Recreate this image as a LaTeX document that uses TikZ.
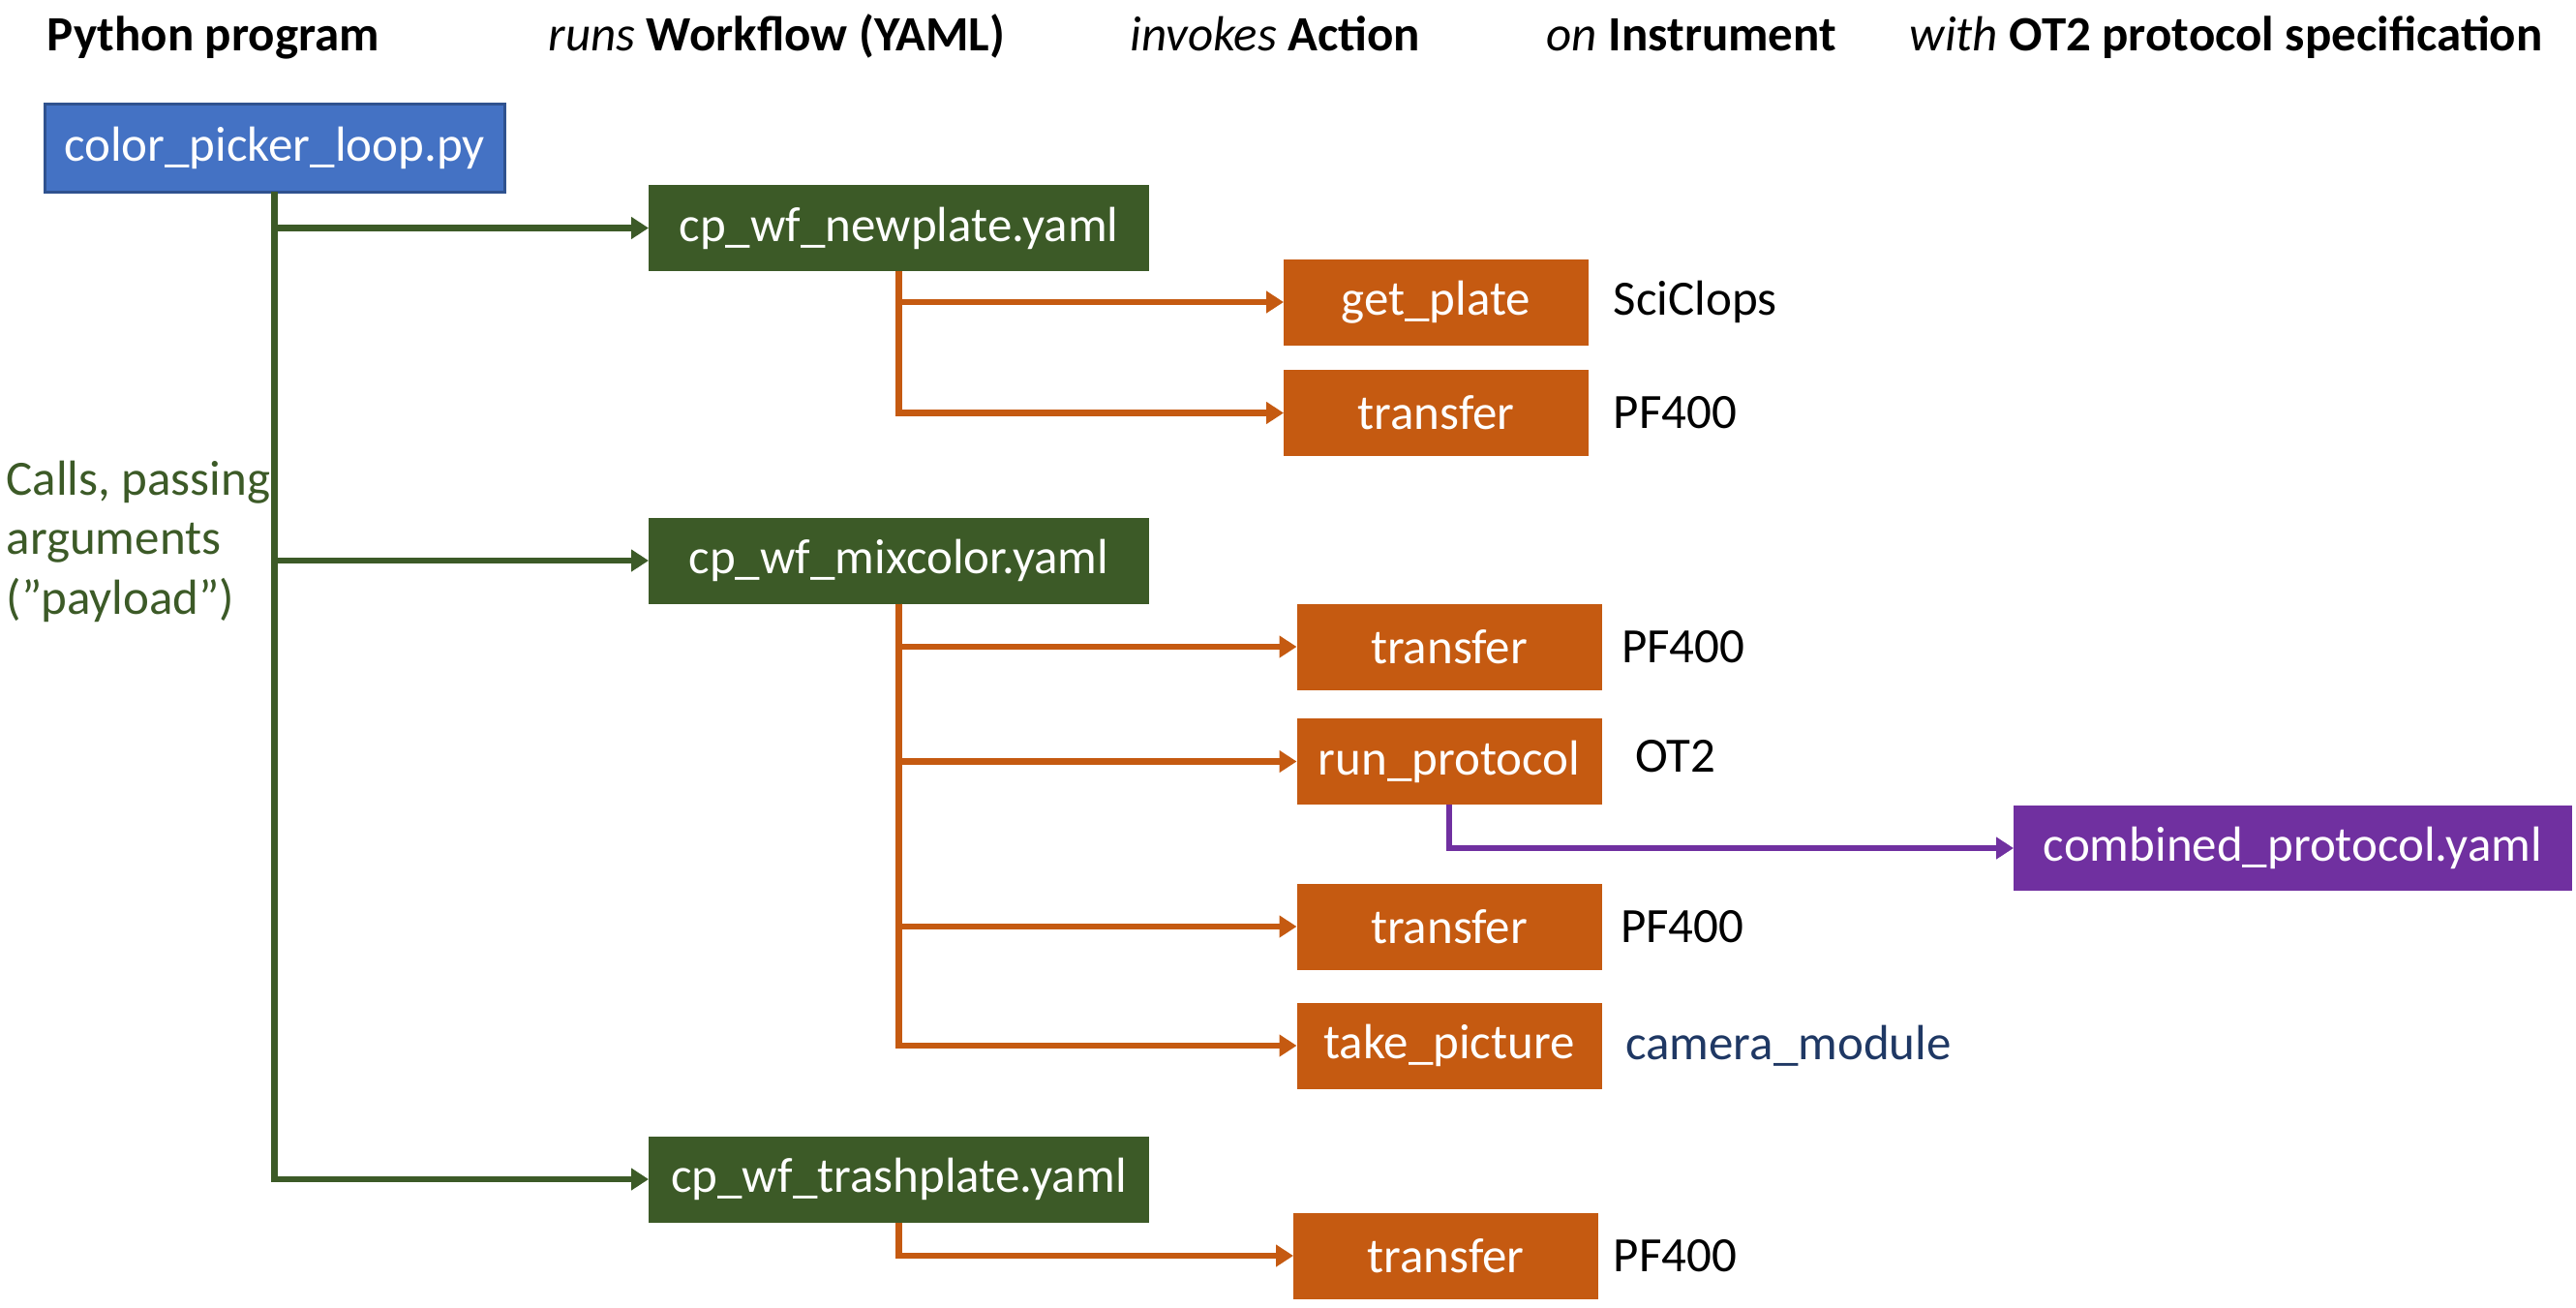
\documentclass[tikz,border=0pt]{standalone}
\usepackage{fontspec}
\setmainfont{Carlito}
\usepackage{xcolor}
\usepackage{tikz}
\usetikzlibrary{arrows.meta, positioning}

\definecolor{pyblue}{HTML}{4472C4}
\definecolor{pyblueline}{HTML}{2F528F}
\definecolor{wfgreen}{HTML}{3C5A27}
\definecolor{actorange}{HTML}{C55A11}
\definecolor{specpurple}{HTML}{7030A0}
\definecolor{camnavy}{HTML}{1F3864}

\begin{document}
\begin{tikzpicture}[
    font=\fontsize{14.5}{17.5}\selectfont,
    box/.style={rectangle, minimum height=0.89cm, inner sep=0pt, outer sep=0pt, align=center, text=white},
    pybox/.style={box, fill=pyblue, draw=pyblueline, line width=0.03cm, minimum width=4.75cm, minimum height=0.91cm},
    wfbox/.style={box, fill=wfgreen, minimum width=5.17cm},
    actbox/.style={box, fill=actorange, minimum width=3.15cm},
    specbox/.style={box, fill=specpurple, minimum width=5.77cm, minimum height=0.88cm},
    head/.style={anchor=base west, inner sep=0pt, font=\fontsize{14.5}{17.5}\selectfont\bfseries},
    inst/.style={anchor=west, inner sep=0pt},
    arrow/.style={-{Triangle[length=0.18cm, width=0.22cm]}, line width=0.065cm},
    garrow/.style={arrow, draw=wfgreen},
    oarrow/.style={arrow, draw=actorange},
    parrow/.style={arrow, draw=specpurple}
]
    \useasboundingbox (0,0) rectangle (26.61,-13.5);

    % Column headers
    \node[head] (hprog) at (0.48,-0.52) {Python program};
    \node[head] (hwf) at (5.66,-0.52) {{\mdseries\itshape runs} Workflow (YAML)};
    \node[head] (hact) at (11.67,-0.52) {{\mdseries\itshape invokes} Action};
    \node[head] (hinst) at (15.97,-0.52) {{\mdseries\itshape on} Instrument};
    \node[head] (hspec) at (19.72,-0.52) {{\mdseries\itshape with} OT2 protocol specification};

    % Main components
    \node[pybox] (loop) at (2.835,-1.525) {color\_picker\_loop.py};
    \node[wfbox] (newplate) at (9.285,-2.355) {cp\_wf\_newplate.yaml};
    \node[wfbox] (mixcolor) at (9.285,-5.79) {cp\_wf\_mixcolor.yaml};
    \node[wfbox] (trashplate) at (9.285,-12.18) {cp\_wf\_trashplate.yaml};

    \node[anchor=west, align=left, inner sep=0pt, text=wfgreen] (calls) at (0.06,-5.59)
        {Calls, passing\\arguments\\(”payload”)};

    % Actions
    \node[actbox] (getplate) at (14.835,-3.12) {get\_plate};
    \node[actbox, below=0.255cm of getplate] (transferA) {transfer};

    \node[actbox] (transferB) at (14.97,-6.68) {transfer};
    \node[actbox, below=0.295cm of transferB] (runprot) {run\_protocol};
    \node[actbox, below=0.815cm of runprot] (transferC) {transfer};
    \node[actbox, below=0.34cm of transferC] (takepic) {take\_picture};

    \node[actbox] (transferD) at (14.935,-12.97) {transfer};

    \node[specbox] (combined) at (23.685,-8.76) {combined\_protocol.yaml};

    % Instruments
    \node[inst, right=0.25cm of getplate] (sciclops) {SciClops};
    \node[inst, right=0.25cm of transferA] (pfA) {PF400};
    \node[inst, right=0.2cm of transferB] (pfB) {PF400};
    \node[inst, right=0.34cm of runprot, yshift=0.05cm] (ot2) {OT2};
    \node[inst, right=0.19cm of transferC] (pfC) {PF400};
    \node[inst, right=0.24cm of takepic, text=camnavy] (camera) {camera\_module};
    \node[inst, right=0.15cm of transferD] (pfD) {PF400};

    % Arrows
    \draw[garrow] (loop.south) |- (newplate.west);
    \draw[garrow] (loop.south) |- (mixcolor.west);
    \draw[garrow] (loop.south) |- (trashplate.west);

    \draw[oarrow] (newplate.south) |- (getplate.west);
    \draw[oarrow] (newplate.south) |- (transferA.west);
    \draw[oarrow] (mixcolor.south) |- (transferB.west);
    \draw[oarrow] (mixcolor.south) |- (runprot.west);
    \draw[oarrow] (mixcolor.south) |- (transferC.west);
    \draw[oarrow] (mixcolor.south) |- (takepic.west);
    \draw[oarrow] (trashplate.south) |- (transferD.west);

    \draw[parrow] (runprot.south) |- (combined.west);
\end{tikzpicture}
\end{document}
